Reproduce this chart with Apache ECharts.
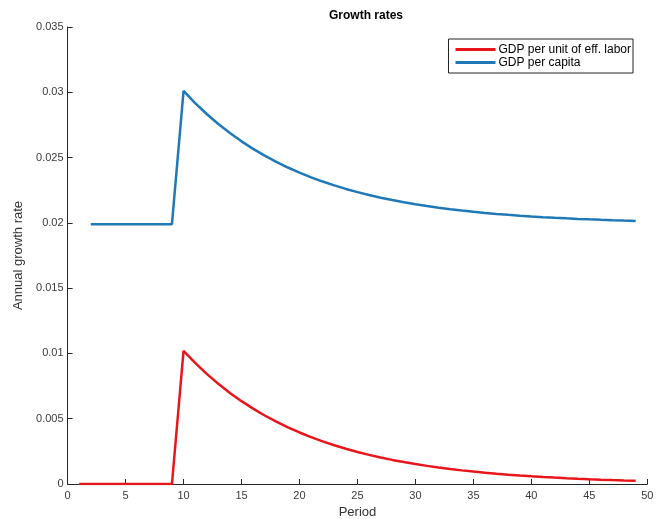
<!DOCTYPE html>
<html>
<head>
<meta charset="utf-8">
<script src="https://cdn.jsdelivr.net/npm/echarts@6/dist/echarts.min.js"></script>
<style>html,body{margin:0;padding:0;background:#fff;}#c{width:657px;height:519px;}</style>
</head>
<body>
<div id="c"></div>
<script>
var seriesNames = ['GDP per unit of eff. labor', 'GDP per capita'];
var redPeriods = [1,2,3,4,5,6,7,8,9,10,11,12,13,14,15,16,17,18,19,20,21,22,23,24,25,26,27,28,29,30,31,32,33,34,35,36,37,38,39,40,41,42,43,44,45,46,47,48,49];
var redValues = [0,0,0,0,0,0,0,0,0,
  0.010200,0.0092759,0.0084355,0.0076712,0.0069762,0.0063442,0.0057694,0.0052467,0.0047713,0.0043390,
  0.0039459,0.0035884,0.0032633,0.0029676,0.0026988,0.0024543,0.0022319,0.0020297,0.0018458,0.0016786,
  0.0015265,0.0013882,0.0012624,0.0011480,0.0010440,0.0009494,0.0008634,0.0007852,0.0007141,0.0006494,
  0.0005906,0.0005371,0.0004884,0.0004442,0.0004039,0.0003673,0.0003341,0.0003038,0.0002763,0.0002512];
var bluePeriods = [2,3,4,5,6,7,8,9,10,11,12,13,14,15,16,17,18,19,20,21,22,23,24,25,26,27,28,29,30,31,32,33,34,35,36,37,38,39,40,41,42,43,44,45,46,47,48,49];
var blueValues = [0.0199,0.0199,0.0199,0.0199,0.0199,0.0199,0.0199,0.0199,
  0.030100,0.029176,0.028336,0.027571,0.026876,0.026244,0.025669,0.025147,0.024671,0.024239,
  0.023846,0.023488,0.023163,0.022868,0.022599,0.022354,0.022132,0.021930,0.021746,0.021579,
  0.021427,0.021288,0.021162,0.021048,0.020944,0.020849,0.020763,0.020685,0.020614,0.020549,
  0.020491,0.020437,0.020388,0.020344,0.020304,0.020267,0.020234,0.020204,0.020176,0.020151];
var xTicks = [0,5,10,15,20,25,30,35,40,45,50];
var yTicks = [0,0.005,0.01,0.015,0.02,0.025,0.03,0.035];

function pairs(xs, ys){ return xs.map(function(x,i){ return [x, ys[i]]; }); }

var chart = echarts.init(document.getElementById('c'), null, {renderer:'canvas'});
var font = 'Liberation Sans, Arial, sans-serif';
chart.setOption({
  animation: false,
  backgroundColor: '#fff',
  textStyle: {fontFamily: font},
  title: {
    text: 'Growth rates', left: 361, textAlign: 'center', top: 5,
    textStyle: {fontSize: 12, fontWeight: 'bold', color: '#000', fontFamily: font}
  },
  legend: {
    orient: 'vertical', right: 24, top: 39,
    borderColor: '#222', borderWidth: 1, padding: [4, 2, 4, 7],
    itemGap: 0, itemWidth: 40, itemHeight: 3, icon: 'rect',
    textStyle: {fontSize: 12, lineHeight: 13, color: '#000', fontFamily: font, padding: [0,0,0,-2]},
    data: seriesNames
  },
  grid: {left: 67.6, right: 9.7, top: 27, bottom: 35, containLabel: false, outerBoundsMode: 'none'},
  xAxis: {
    type: 'value', min: xTicks[0], max: xTicks[xTicks.length-1], interval: 5,
    name: 'Period', nameLocation: 'middle', nameGap: 21,
    nameTextStyle: {fontSize: 13, color: '#333', fontFamily: font},
    axisLine: {lineStyle: {color: '#262626', width: 1}},
    axisTick: {inside: true, length: 5, lineStyle: {color: '#262626'}},
    axisLabel: {fontSize: 11, color: '#3a3a3a', margin: 6, fontFamily: font},
    splitLine: {show: false}
  },
  yAxis: {
    type: 'value', min: yTicks[0], max: yTicks[yTicks.length-1], interval: 0.005,
    name: 'Annual growth rate', nameLocation: 'middle', nameGap: 43,
    nameTextStyle: {fontSize: 13, color: '#333', fontFamily: font},
    axisLine: {show: true, lineStyle: {color: '#262626', width: 1}},
    axisTick: {show: true, inside: true, length: 5, lineStyle: {color: '#262626'}},
    axisLabel: {fontSize: 11, color: '#3a3a3a', margin: 4, fontFamily: font,
      formatter: function(v){ return String(parseFloat(v.toFixed(3))); }},
    splitLine: {show: false}
  },
  series: [
    {name: seriesNames[0], type: 'line', data: pairs(redPeriods, redValues), symbol: 'none',
     lineStyle: {color: '#e8161b', width: 2.5}, itemStyle: {color: '#e8161b'}},
    {name: seriesNames[1], type: 'line', data: pairs(bluePeriods, blueValues), symbol: 'none',
     lineStyle: {color: '#1f78b8', width: 2.5}, itemStyle: {color: '#1f78b8'}}
  ]
});
</script>
</body>
</html>
